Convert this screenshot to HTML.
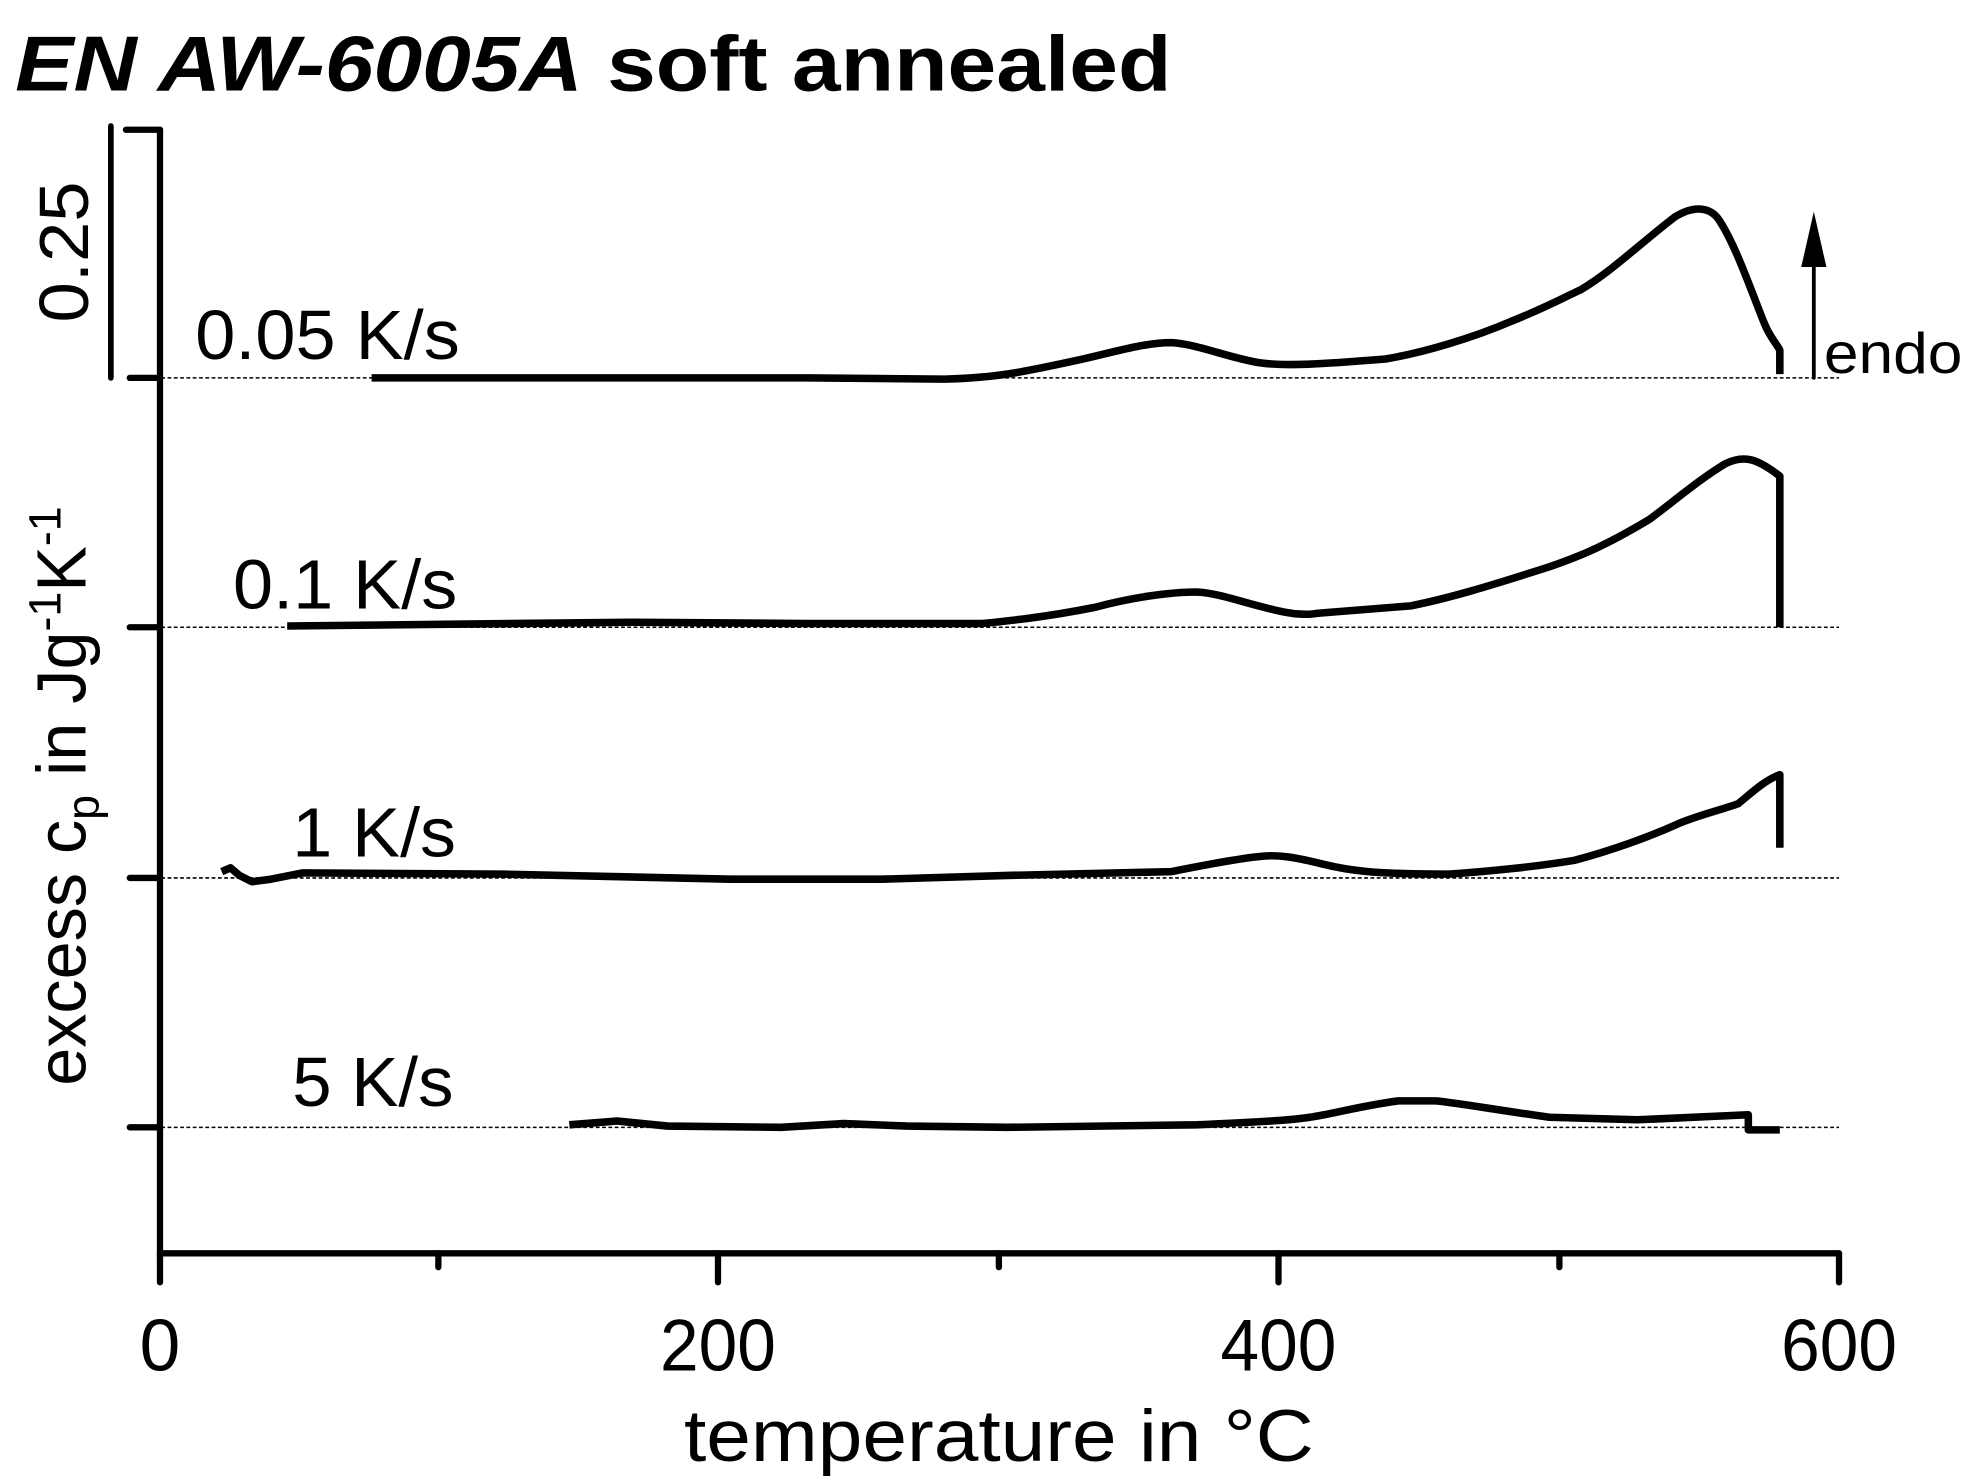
<!DOCTYPE html>
<html><head><meta charset="utf-8"><style>html,body{margin:0;padding:0;background:#fff}svg{display:block}</style></head><body>
<svg width="1965" height="1478" viewBox="0 0 1560 1173.4" xmlns="http://www.w3.org/2000/svg" font-family="'Liberation Sans Narrow','Liberation Sans',sans-serif">
<rect width="1560" height="1174" fill="#fff"/>
<text x="12" y="72" font-size="62" font-weight="bold" font-family="'Liberation Sans',sans-serif" textLength="918" lengthAdjust="spacingAndGlyphs"><tspan font-style="italic">EN AW-6005A</tspan> soft annealed</text>
<g stroke="#000" stroke-width="1.2" stroke-dasharray="3 2">
<line x1="103" y1="300" x2="1460" y2="300"/><line x1="103" y1="498" x2="1460" y2="498"/><line x1="103" y1="697" x2="1460" y2="697"/><line x1="103" y1="895" x2="1460" y2="895"/>
</g>
<g stroke="#000" stroke-width="5" fill="none" stroke-linecap="round">
<path d="M127 103V995H1460"/>
<path d="M100 103H127M103 300H127M103 498H127M103 697H127M103 895H127"/>
<path d="M127 995V1018M570 995V1018M1015 995V1018M1460 995V1018M348 995V1006M793 995V1006M1238 995V1006"/>
<path d="M88 100V300" stroke-width="4.5"/>
<path d="M1440 300V200" stroke-width="3"/>
</g>
<polygon points="1440,168 1430,212 1450,212" fill="#000"/>
<g stroke="#000" stroke-width="6" fill="none" stroke-linejoin="round">
<path d="M295 300L640 300L750 301C790 300 810 296 860 285C890 278 910 272 930 272C950 273 975 284 1000 288C1020 291 1050 289 1100 285C1130 280 1170 268 1200 255C1230 243 1250 232 1255 230C1280 215 1300 195 1330 172C1345 163 1358 164 1365 175C1378 195 1390 230 1400 255C1405 268 1410 272 1413 278L1413 297"/>
<path d="M228 497L500 494L640 495L780 495C800 493 830 490 870 482C900 474 930 470 950 470C970 471 990 480 1020 486C1030 488 1040 488 1045 487L1120 481C1150 475 1180 466 1230 450C1250 443 1270 436 1310 412C1330 397 1350 380 1370 368C1385 361 1395 364 1413 378L1413 498"/>
<path d="M176 692L183 689L190 695L200 700L215 698L240 693L400 694L580 698L700 698L800 695L930 692C950 688 980 682 1000 680C1015 678 1030 681 1050 686C1070 691 1090 694 1150 694C1180 692 1220 688 1250 683C1280 675 1310 664 1330 655C1345 648 1370 642 1380 638C1390 630 1400 620 1413 615L1413 673"/>
<path d="M452 893L490 890L530 894L620 895L670 892L720 894L800 895L950 893C990 891 1020 890 1040 887C1060 884 1080 878 1110 874L1140 874C1160 876 1180 880 1230 887L1300 889L1388 885L1388 897L1413 897"/>
</g>
<g font-size="55" fill="#000">
<text x="155" y="285" textLength="210" lengthAdjust="spacingAndGlyphs">0.05 K/s</text>
<text x="185" y="483" textLength="178" lengthAdjust="spacingAndGlyphs">0.1 K/s</text>
<text x="232" y="680" textLength="130" lengthAdjust="spacingAndGlyphs">1 K/s</text>
<text x="232" y="878" textLength="128" lengthAdjust="spacingAndGlyphs">5 K/s</text>
<text x="1448" y="296" font-size="46" textLength="110" lengthAdjust="spacingAndGlyphs">endo</text>
<text x="127" y="1088" font-size="58" text-anchor="middle">0</text>
<text x="570" y="1088" font-size="58" text-anchor="middle" textLength="92" lengthAdjust="spacingAndGlyphs">200</text>
<text x="1015" y="1088" font-size="58" text-anchor="middle" textLength="92" lengthAdjust="spacingAndGlyphs">400</text>
<text x="1460" y="1088" font-size="58" text-anchor="middle" textLength="92" lengthAdjust="spacingAndGlyphs">600</text>
<text x="543" y="1160" font-size="58" textLength="500" lengthAdjust="spacingAndGlyphs">temperature in °C</text>
<text transform="translate(70,256) rotate(-90)" font-size="55" textLength="112" lengthAdjust="spacingAndGlyphs">0.25</text>
<text transform="translate(68,862) rotate(-90)" font-size="55" textLength="460" lengthAdjust="spacingAndGlyphs">excess c<tspan font-size="36" dy="10">p</tspan><tspan dy="-10"> in Jg</tspan><tspan font-size="36" dy="-20">-1</tspan><tspan dy="20">K</tspan><tspan font-size="36" dy="-20">-1</tspan></text>
</g>
</svg>
</body></html>
